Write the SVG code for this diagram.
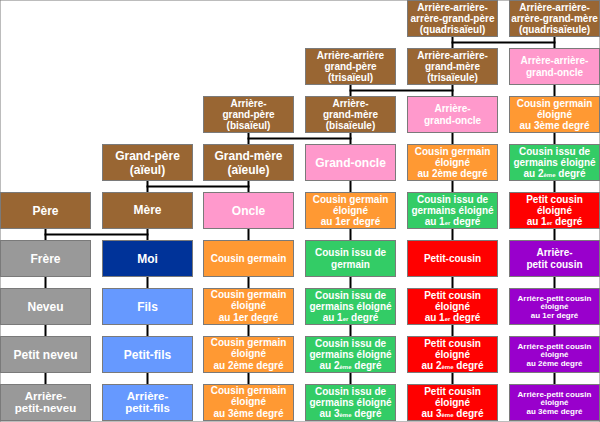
<svg xmlns="http://www.w3.org/2000/svg" width="600" height="422" viewBox="0 0 600 422">
<style>
rect{stroke:#7a7a7a;stroke-width:1}
.br{fill:#996633}.pk{fill:#ff99cc}.or{fill:#ff9933}.gr{fill:#33cc66}.rd{fill:#ff0000}.pu{fill:#9900cc}.gy{fill:#999999}.db{fill:#003399}.lb{fill:#6699ff}
text{font-family:"Liberation Sans",Arial,sans-serif;font-weight:bold;fill:#fff;text-anchor:middle}
.f12{font-size:12px}.f11{font-size:11.5px}.f10{font-size:10px}.f8{font-size:8px}
.s{font-size:6px}
#connectors line{stroke:#000;stroke-width:2;stroke-linecap:square}
</style>
<rect x="0" y="0" width="600" height="422" fill="#fff" stroke="none"/>
<g id="connectors">
<line x1="45.5" y1="229" x2="45.5" y2="384"/>
<line x1="147.5" y1="181" x2="147.5" y2="384"/>
<line x1="248.5" y1="133" x2="248.5" y2="384"/>
<line x1="350.5" y1="85" x2="350.5" y2="384"/>
<line x1="452.5" y1="37" x2="452.5" y2="384"/>
<line x1="554.5" y1="37" x2="554.5" y2="384"/>
<line x1="452.5" y1="42.5" x2="554.5" y2="42.5"/>
<line x1="350.5" y1="90.5" x2="452.5" y2="90.5"/>
<line x1="248.5" y1="138.5" x2="350.5" y2="138.5"/>
<line x1="147.5" y1="186.5" x2="248.5" y2="186.5"/>
<line x1="45.5" y1="234.5" x2="147.5" y2="234.5"/>
</g>
<!-- row 0 -->
<g id="quadrisaieul"><rect class="br" x="407.5" y="0.5" width="90" height="36"/><text class="f10" x="452.5"><tspan x="452.5" y="10.5">Arrière-arrière-</tspan><tspan x="452.5" y="21.8">arrère-grand-père</tspan><tspan x="452.5" y="33.1">(quadrisaïeul)</tspan></text></g>
<g id="quadrisaieule"><rect class="br" x="509.5" y="0.5" width="90" height="36"/><text class="f10" x="554.5"><tspan x="554.5" y="10.5">Arrière-arrière-</tspan><tspan x="554.5" y="21.8">arrère-grand-mère</tspan><tspan x="554.5" y="33.1">(quadrisaïeule)</tspan></text></g>
<!-- row 1 -->
<g id="trisaieul"><rect class="br" x="305.5" y="48.5" width="90" height="36"/><text class="f10"><tspan x="350.5" y="58.5">Arrière-arrière</tspan><tspan x="350.5" y="69.8">grand-père</tspan><tspan x="350.5" y="81.1">(trisaïeul)</tspan></text></g>
<g id="trisaieule"><rect class="br" x="407.5" y="48.5" width="90" height="36"/><text class="f10"><tspan x="452.5" y="58.5">Arrière-arrière-</tspan><tspan x="452.5" y="69.8">grand-mère</tspan><tspan x="452.5" y="81.1">(trisaïeule)</tspan></text></g>
<g id="arriere-arriere-grand-oncle"><rect class="pk" x="509.5" y="48.5" width="90" height="36"/><text class="f10"><tspan x="554.5" y="64.2">Arrère-arrière-</tspan><tspan x="554.5" y="76">grand-oncle</tspan></text></g>
<!-- row 2 -->
<g id="bisaieul"><rect class="br" x="203.5" y="96.5" width="90" height="36"/><text class="f10"><tspan x="248.5" y="106.5">Arrière-</tspan><tspan x="248.5" y="117.8">grand-père</tspan><tspan x="248.5" y="129.1">(bisaïeul)</tspan></text></g>
<g id="bisaieule"><rect class="br" x="305.5" y="96.5" width="90" height="36"/><text class="f10"><tspan x="350.5" y="106.5">Arrière-</tspan><tspan x="350.5" y="117.8">grand-mère</tspan><tspan x="350.5" y="129.1">(bisaïeule)</tspan></text></g>
<g id="arriere-grand-oncle"><rect class="pk" x="407.5" y="96.5" width="90" height="36"/><text class="f10"><tspan x="452.5" y="112.2">Arrière-</tspan><tspan x="452.5" y="124">grand-oncle</tspan></text></g>
<g id="cg3-haut"><rect class="or" x="509.5" y="96.5" width="90" height="36"/><text class="f10"><tspan x="554.5" y="106.5">Cousin germain</tspan><tspan x="554.5" y="117.8">éloigné</tspan><tspan x="554.5" y="129.1">au 3ème degré</tspan></text></g>
<!-- row 3 -->
<g id="grand-pere"><rect class="br" x="102.5" y="144.5" width="90" height="36"/><text class="f12"><tspan x="147.5" y="160">Grand-père</tspan><tspan x="147.5" y="173.5">(aïeul)</tspan></text></g>
<g id="grand-mere"><rect class="br" x="203.5" y="144.5" width="90" height="36"/><text class="f12"><tspan x="248.5" y="160">Grand-mère</tspan><tspan x="248.5" y="173.5">(aïeule)</tspan></text></g>
<g id="grand-oncle"><rect class="pk" x="305.5" y="144.5" width="90" height="36"/><text class="f12" x="350.5" y="166.8">Grand-oncle</text></g>
<g id="cg2-haut"><rect class="or" x="407.5" y="144.5" width="90" height="36"/><text class="f10"><tspan x="452.5" y="154.5">Cousin germain</tspan><tspan x="452.5" y="165.8">éloigné</tspan><tspan x="452.5" y="177.1">au 2ème degré</tspan></text></g>
<g id="cig2-haut"><rect class="gr" x="509.5" y="144.5" width="90" height="36"/><text class="f10"><tspan x="554.5" y="154.5">Cousin issu de</tspan><tspan x="554.5" y="165.8">germains éloigné</tspan><tspan x="554.5" y="177.1">au 2<tspan class="s">ème</tspan> degré</tspan></text></g>
<!-- row 4 -->
<g id="pere"><rect class="br" x="0.5" y="192.5" width="90" height="36"/><text class="f12" x="45.5" y="214.8">Père</text></g>
<g id="mere"><rect class="br" x="102.5" y="192.5" width="90" height="36"/><text class="f12" x="147.5" y="214">Mère</text></g>
<g id="oncle"><rect class="pk" x="203.5" y="192.5" width="90" height="36"/><text class="f12" x="248.5" y="214.8">Oncle</text></g>
<g id="cg1-haut"><rect class="or" x="305.5" y="192.5" width="90" height="36"/><text class="f10"><tspan x="350.5" y="202.5">Cousin germain</tspan><tspan x="350.5" y="213.8">éloigné</tspan><tspan x="350.5" y="225.1">au 1er degré</tspan></text></g>
<g id="cig1-haut"><rect class="gr" x="407.5" y="192.5" width="90" height="36"/><text class="f10"><tspan x="452.5" y="202.5">Cousin issu de</tspan><tspan x="452.5" y="213.8">germains éloigné</tspan><tspan x="452.5" y="225.1">au 1<tspan class="s">er</tspan> degré</tspan></text></g>
<g id="pc1-haut"><rect class="rd" x="509.5" y="192.5" width="90" height="36"/><text class="f10"><tspan x="554.5" y="202.5">Petit cousin</tspan><tspan x="554.5" y="213.8">éloigné</tspan><tspan x="554.5" y="225.1">au 1<tspan class="s">er</tspan> degré</tspan></text></g>
<!-- row 5 -->
<g id="frere"><rect class="gy" x="0.5" y="240.5" width="90" height="36"/><text class="f12" x="45.5" y="262.8">Frère</text></g>
<g id="moi"><rect class="db" x="102.5" y="240.5" width="90" height="36"/><text class="f12" x="147.5" y="262.8">Moi</text></g>
<g id="cousin-germain"><rect class="or" x="203.5" y="240.5" width="90" height="36"/><text class="f10" x="248.5" y="262">Cousin germain</text></g>
<g id="cousin-issu-de-germain"><rect class="gr" x="305.5" y="240.5" width="90" height="36"/><text class="f10"><tspan x="350.5" y="256">Cousin issu de</tspan><tspan x="350.5" y="267.5">germain</tspan></text></g>
<g id="petit-cousin"><rect class="rd" x="407.5" y="240.5" width="90" height="36"/><text class="f10" x="452.5" y="262">Petit-cousin</text></g>
<g id="arriere-petit-cousin"><rect class="pu" x="509.5" y="240.5" width="90" height="36"/><text class="f10"><tspan x="554.5" y="256">Arrière-</tspan><tspan x="554.5" y="267.5">petit cousin</tspan></text></g>
<!-- row 6 -->
<g id="neveu"><rect class="gy" x="0.5" y="288.5" width="90" height="36"/><text class="f12" x="45.5" y="310.8">Neveu</text></g>
<g id="fils"><rect class="lb" x="102.5" y="288.5" width="90" height="36"/><text class="f12" x="147.5" y="310.8">Fils</text></g>
<g id="cg1-bas"><rect class="or" x="203.5" y="288.5" width="90" height="36"/><text class="f10"><tspan x="248.5" y="298">Cousin germain</tspan><tspan x="248.5" y="309.3">éloigné</tspan><tspan x="248.5" y="320.6">au 1er degré</tspan></text></g>
<g id="cig1-bas"><rect class="gr" x="305.5" y="288.5" width="90" height="36"/><text class="f10"><tspan x="350.5" y="298.5">Cousin issu de</tspan><tspan x="350.5" y="309.8">germains éloigné</tspan><tspan x="350.5" y="321.1">au 1<tspan class="s">er</tspan> degré</tspan></text></g>
<g id="pc1-bas"><rect class="rd" x="407.5" y="288.5" width="90" height="36"/><text class="f10"><tspan x="452.5" y="298.5">Petit cousin</tspan><tspan x="452.5" y="309.8">éloigné</tspan><tspan x="452.5" y="321.1">au 1<tspan class="s">er</tspan> degré</tspan></text></g>
<g id="apc1"><rect class="pu" x="509.5" y="288.5" width="90" height="36"/><text class="f8"><tspan x="554.5" y="300.5">Arrière-petit cousin</tspan><tspan x="554.5" y="309.3">éloigné</tspan><tspan x="554.5" y="318.1">au 1er degré</tspan></text></g>
<!-- row 7 -->
<g id="petit-neveu"><rect class="gy" x="0.5" y="336.5" width="90" height="36"/><text class="f12" x="45.5" y="358.8">Petit neveu</text></g>
<g id="petit-fils"><rect class="lb" x="102.5" y="336.5" width="90" height="36"/><text class="f12" x="147.5" y="358.8">Petit-fils</text></g>
<g id="cg2-bas"><rect class="or" x="203.5" y="336.5" width="90" height="36"/><text class="f10"><tspan x="248.5" y="346">Cousin germain</tspan><tspan x="248.5" y="357.3">éloigné</tspan><tspan x="248.5" y="368.6">au 2ème degré</tspan></text></g>
<g id="cig2-bas"><rect class="gr" x="305.5" y="336.5" width="90" height="36"/><text class="f10"><tspan x="350.5" y="346.5">Cousin issu de</tspan><tspan x="350.5" y="357.8">germains éloigné</tspan><tspan x="350.5" y="369.1">au 2<tspan class="s">ème</tspan> degré</tspan></text></g>
<g id="pc2"><rect class="rd" x="407.5" y="336.5" width="90" height="36"/><text class="f10"><tspan x="452.5" y="346.5">Petit cousin</tspan><tspan x="452.5" y="357.8">éloigné</tspan><tspan x="452.5" y="369.1">au 2<tspan class="s">ème</tspan> degré</tspan></text></g>
<g id="apc2"><rect class="pu" x="509.5" y="336.5" width="90" height="36"/><text class="f8"><tspan x="554.5" y="348.5">Arrière-petit cousin</tspan><tspan x="554.5" y="357.3">éloigné</tspan><tspan x="554.5" y="366.1">au 2ème degré</tspan></text></g>
<!-- row 8 -->
<g id="arriere-petit-neveu"><rect class="gy" x="0.5" y="384.5" width="90" height="36"/><text class="f11"><tspan x="45.5" y="399.8">Arrière-</tspan><tspan x="45.5" y="411.8">petit-neveu</tspan></text></g>
<g id="arriere-petit-fils"><rect class="lb" x="102.5" y="384.5" width="90" height="36"/><text class="f11"><tspan x="147.5" y="399.8">Arrière-</tspan><tspan x="147.5" y="411.8">petit-fils</tspan></text></g>
<g id="cg3-bas"><rect class="or" x="203.5" y="384.5" width="90" height="36"/><text class="f10"><tspan x="248.5" y="394">Cousin germain</tspan><tspan x="248.5" y="405.3">éloigné</tspan><tspan x="248.5" y="416.6">au 3ème degré</tspan></text></g>
<g id="cig3"><rect class="gr" x="305.5" y="384.5" width="90" height="36"/><text class="f10"><tspan x="350.5" y="394.5">Cousin issu de</tspan><tspan x="350.5" y="405.8">germains éloigné</tspan><tspan x="350.5" y="417.1">au 3<tspan class="s">ème</tspan> degré</tspan></text></g>
<g id="pc3"><rect class="rd" x="407.5" y="384.5" width="90" height="36"/><text class="f10"><tspan x="452.5" y="394.5">Petit cousin</tspan><tspan x="452.5" y="405.8">éloigné</tspan><tspan x="452.5" y="417.1">au 3<tspan class="s">ème</tspan> degré</tspan></text></g>
<g id="apc3"><rect class="pu" x="509.5" y="384.5" width="90" height="36"/><text class="f8"><tspan x="554.5" y="396.5">Arrière-petit cousin</tspan><tspan x="554.5" y="405.3">éloigné</tspan><tspan x="554.5" y="414.1">au 3ème degré</tspan></text></g>
</svg>
